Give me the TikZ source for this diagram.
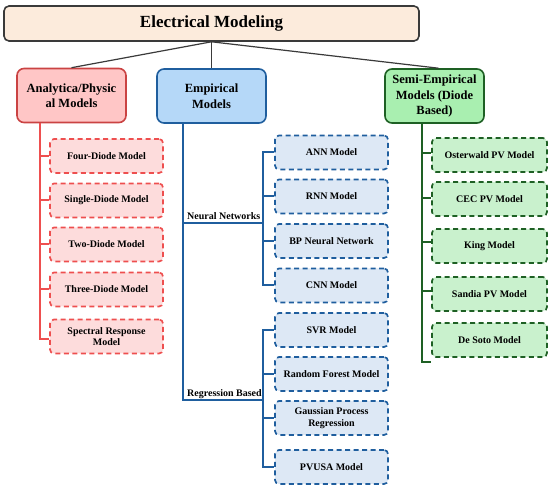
\documentclass[tikz,border=0pt]{standalone}
\usepackage{fontspec}
\setmainfont{Liberation Serif}
\begin{document}
\begin{tikzpicture}[x=1pt,y=-1pt,
  font=\bfseries,
  topbox/.style={draw=topline,fill=topfill,line width=1.6pt,rounded corners=5pt,minimum width=415pt,minimum height=35pt,font=\fontsize{17}{20}\selectfont\bfseries},
  catbox/.style={rounded corners=7pt,line width=1.6pt,minimum width=#1,minimum height=54pt,align=center,font=\fontsize{12.5}{15.5}\selectfont\bfseries},
  child/.style={rounded corners=4pt,line width=1.7pt,dash pattern=on 5pt off 3.5pt,minimum width=113pt,minimum height=34pt,align=center,font=\fontsize{10}{11.5}\selectfont\bfseries},
  childR/.style={child,draw=redline,fill=redchild},
  childB/.style={child,draw=blueline,fill=bluechild},
  childG/.style={child,draw=greenline,fill=greenchild,minimum width=115pt},
  conn/.style={draw=topline,line width=1.2pt},
  rline/.style={draw=redline,line width=2pt},
  bline/.style={draw=blueline,line width=2pt},
  gline/.style={draw=greenline,line width=2pt},
  lab/.style={font=\fontsize{10}{12}\selectfont\bfseries,inner sep=0pt,anchor=base west}
]
\definecolor{topline}{HTML}{3A3A3A}
\definecolor{topfill}{HTML}{FCEBDC}
\definecolor{redline}{HTML}{EE4F4F}
\definecolor{redfill}{HTML}{FFC6C6}
\definecolor{redchild}{HTML}{FDDCDC}
\definecolor{blueline}{HTML}{1F5E9E}
\definecolor{bluefill}{HTML}{B5D8F8}
\definecolor{bluechild}{HTML}{DDE8F5}
\definecolor{greenline}{HTML}{1E6024}
\definecolor{greenfill}{HTML}{A9EFB0}
\definecolor{greenchild}{HTML}{C9F1CD}
\useasboundingbox (0,0) rectangle (550,489);

\node[topbox] (top) at (211.5,23.5) {Electrical Modeling};
\node[catbox=109pt,draw=redline!85!black,fill=redfill] (ana) at (71.5,95.5) {Analytica/Physic\\al Models};
\node[catbox=109pt,draw=blueline,fill=bluefill] (emp) at (211.5,96) {Empirical\\Models};
\node[catbox=99pt,draw=greenline,fill=greenfill] (semi) at (434.5,96) {Semi-Empirical\\Models (Diode\\Based)};

\draw[conn] (top.south) -- (ana.north);
\draw[conn] (top.south) -- (emp.north);
\draw[conn] (top.south) -- ([xshift=4pt]semi.north);

% Analytical column
\node[childR] (a1) at (106.5,156) {Four-Diode Model};
\node[childR] (a2) at (106.5,200.5) {Single-Diode Model};
\node[childR] (a3) at (106.5,244.5) {Two-Diode Model};
\node[childR] (a4) at (106.5,289.5) {Three-Diode Model};
\node[childR] (a5) at (106.5,336.5) {Spectral Response\\Model};
\coordinate (aL) at (40,123);
\draw[rline] (aL) |- ([yshift=-3pt]a5.west);
\foreach \n in {a1,a2,a3,a4} \draw[rline] (\n.west) -- (\n.west -| aL);

% Empirical column
\coordinate (eL) at (183,123);
\coordinate (nn) at (183,223);
\coordinate (nnj) at (263,223);
\coordinate (rb) at (183,400);
\coordinate (rbj) at (263,400);
\draw[bline] (eL) -- (rb) -- (rbj);
\draw[bline] (nn) -- (nnj);
\node[lab] (nnl) at (187,220) {Neural Networks};
\node[lab] (rbl) at (187,396.5) {Regression Based};

\node[childB] (e1) at (331.5,152.5) {ANN Model};
\node[childB] (e2) at (331.5,196.5) {RNN Model};
\node[childB] (e3) at (331.5,241) {BP Neural Network};
\node[childB] (e4) at (331.5,285.5) {CNN Model};
\draw[bline] (e1.west) -| (nnj) |- (e4.west);
\foreach \n in {e2,e3} \draw[bline] (\n.west) -- (\n.west -| nnj);

\node[childB] (r1) at (331.5,330) {SVR Model};
\node[childB] (r2) at (331.5,374) {Random Forest Model};
\node[childB] (r3) at (331.5,418) {Gaussian Process\\Regression};
\node[childB] (r4) at (331.5,467) {PVUSA Model};
\draw[bline] (r1.west) -| (rbj) |- (r4.west);
\foreach \n in {r2,r3} \draw[bline] (\n.west) -- (\n.west -| rbj);

% Semi-empirical column
\node[childG] (s1) at (489.5,155) {Osterwald PV Model};
\node[childG] (s2) at (489.5,199) {CEC PV Model};
\node[childG] (s3) at (489.5,246) {King Model};
\node[childG] (s4) at (489.5,294) {Sandia PV Model};
\node[childG] (s5) at (489.5,340) {De Soto Model};
\coordinate (sL) at (422,123);
\draw[gline] (sL) |- ([yshift=-4pt]s5.south west);
\draw[gline] ([yshift=2pt]s1.west) -- ([yshift=2pt]s1.west -| sL);
\draw[gline] ([yshift=1pt]s2.west) -- ([yshift=1pt]s2.west -| sL);
\draw[gline] ([yshift=4pt]s3.west) -- ([yshift=4pt]s3.west -| sL);
\draw[gline] ([yshift=3pt]s4.west) -- ([yshift=3pt]s4.west -| sL);
\end{tikzpicture}
\end{document}
